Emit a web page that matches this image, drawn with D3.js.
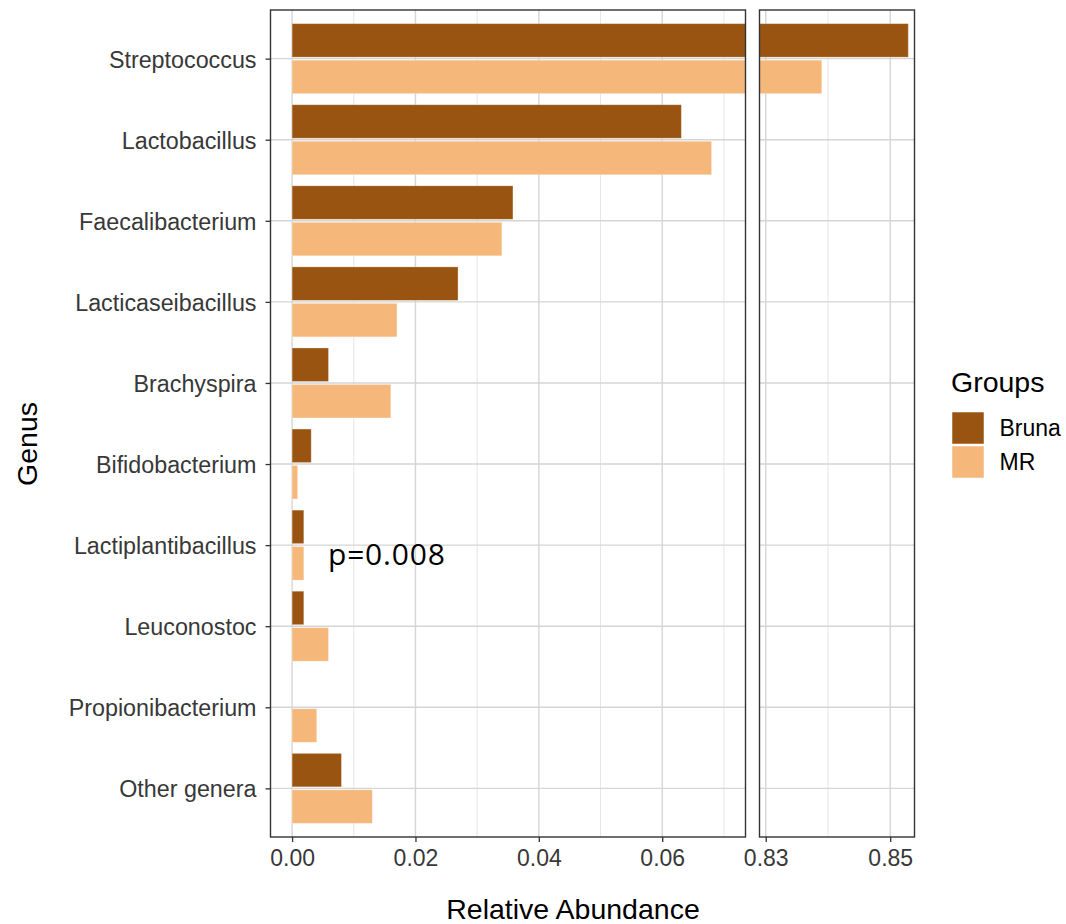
<!DOCTYPE html>
<html>
<head>
<meta charset="utf-8">
<script src="https://cdn.jsdelivr.net/npm/d3@7/dist/d3.min.js"></script>
<style>
  html, body { margin: 0; padding: 0; background: #ffffff; }
  svg { display: block; }
</style>
</head>
<body>
<svg id="chart" width="1066" height="924"></svg>
<script>
// Genera, top to bottom
const genera = [
  "Streptococcus", "Lactobacillus", "Faecalibacterium", "Lacticaseibacillus",
  "Brachyspira", "Bifidobacterium", "Lactiplantibacillus", "Leuconostoc",
  "Propionibacterium", "Other genera"
];
const groups = ["Bruna", "MR"];
// Mean relative abundance per genus
const bruna = [0.8529, 0.0631, 0.0358, 0.0269, 0.0059, 0.0031, 0.0019, 0.0019, 0.0, 0.0080];
const mr    = [0.8390, 0.0680, 0.0340, 0.0170, 0.0160, 0.0009, 0.0019, 0.0059, 0.0040, 0.0130];
const groupColors = ["#9A5411", "#F5B77A"];

// Broken x axis: low-value panel and high-value panel
const lowTicks = [0.00, 0.02, 0.04, 0.06];
const lowMinor = [0.01, 0.03, 0.05, 0.07];
const highTicks = [0.83, 0.85];
const highMinor = [0.84];
const pAnnotation = "p=0.008";

const rows = genera.map((g, i) => ({ genus: g, values: [bruna[i], mr[i]] }));

const svg = d3.select("#chart");
const font = "'Liberation Sans', Arial, Helvetica, sans-serif";
const axisTextColor = "#383838";
const panelTop = 10, panelBottom = 837;

const y = d3.scalePoint().domain(genera).range([panelTop, panelBottom]).padding(0.6);
const step = y.step();
const dodge = 0.9 * step;
const sub = d3.scaleBand().domain(groups).range([-dodge / 2, dodge / 2]);

const panels = [
  { id: "low", x: d3.scaleLinear().domain([-0.0035, 0.0735]).range([270.5, 745.5]),
    ticks: lowTicks, minor: lowMinor, fmt: d3.format(".2f"), yAxis: true },
  { id: "high", x: d3.scaleLinear().domain([0.829, 0.8539]).range([759.5, 914.5]),
    ticks: highTicks, minor: highMinor, fmt: d3.format(".2f"), yAxis: false }
];

const defs = svg.append("defs");

panels.forEach(p => {
  const [x0, x1] = p.x.range();
  defs.append("clipPath").attr("id", "clip-" + p.id)
    .append("rect").attr("x", x0).attr("y", panelTop).attr("width", x1 - x0).attr("height", panelBottom - panelTop);

  const g = svg.append("g");
  g.append("rect").attr("x", x0).attr("y", panelTop).attr("width", x1 - x0).attr("height", panelBottom - panelTop)
    .attr("fill", "#ffffff");

  // grid
  g.selectAll(".minor").data(p.minor).join("line")
    .attr("x1", d => p.x(d)).attr("x2", d => p.x(d)).attr("y1", panelTop).attr("y2", panelBottom)
    .attr("stroke", "#E6E6E6").attr("stroke-width", 1);
  g.selectAll(".major").data(p.ticks).join("line")
    .attr("x1", d => p.x(d)).attr("x2", d => p.x(d)).attr("y1", panelTop).attr("y2", panelBottom)
    .attr("stroke", "#D5D5D5").attr("stroke-width", 1.4);
  g.selectAll(".hgrid").data(genera).join("line")
    .attr("x1", x0).attr("x2", x1).attr("y1", d => y(d)).attr("y2", d => y(d))
    .attr("stroke", "#D5D5D5").attr("stroke-width", 1.4);

  // bars
  const bars = g.append("g").attr("clip-path", `url(#clip-${p.id})`);
  rows.forEach(r => {
    r.values.forEach((v, k) => {
      if (v <= 0) return;
      const yy = y(r.genus) + sub(groups[k]);
      const xa = p.x(0), xb = p.x(v);
      bars.append("rect")
        .attr("x", Math.min(xa, xb)).attr("width", Math.abs(xb - xa))
        .attr("y", yy + 1.5).attr("height", sub.bandwidth() - 3)
        .attr("fill", groupColors[k])
        .attr("stroke", "#ffffff").attr("stroke-opacity", 0.35).attr("stroke-width", 0.8);
    });
  });

  // border
  g.append("rect").attr("x", x0).attr("y", panelTop).attr("width", x1 - x0).attr("height", panelBottom - panelTop)
    .attr("fill", "none").attr("stroke", "#333333").attr("stroke-width", 1.4);

  // x axis
  const xa = svg.append("g").attr("transform", `translate(0,${panelBottom})`);
  xa.call(d3.axisBottom(p.x).tickValues(p.ticks).tickFormat(p.fmt).tickSize(5).tickPadding(8));
  xa.select(".domain").remove();
  xa.selectAll(".tick line").attr("stroke", "#333333").attr("stroke-width", 1.3);
  xa.selectAll(".tick text").attr("fill", axisTextColor).attr("font-family", font)
    .attr("font-size", 23).attr("dy", "0.71em");

  if (p.yAxis) {
    const ya = svg.append("g").attr("transform", `translate(${x0},0)`);
    ya.call(d3.axisLeft(y).tickSize(5).tickPadding(9));
    ya.select(".domain").remove();
    ya.selectAll(".tick line").attr("stroke", "#333333").attr("stroke-width", 1.3);
    ya.selectAll(".tick text").attr("fill", axisTextColor).attr("font-family", font)
      .attr("font-size", 23.3).attr("dy", "0.36em");
  }
});

// p-value annotation
svg.append("text").attr("x", 328).attr("y", 565)
  .attr("font-family", "'Open Sans', 'Noto Sans', sans-serif").attr("font-size", 30)
  .attr("letter-spacing", 0.8).attr("fill", "#000000").text(pAnnotation);

// axis titles
svg.append("text").attr("x", 573).attr("y", 919).attr("text-anchor", "middle")
  .attr("font-family", font).attr("font-size", 28.5).attr("fill", "#000000")
  .text("Relative Abundance");
svg.append("text").attr("transform", "translate(36.5,444) rotate(-90)")
  .attr("text-anchor", "middle").attr("font-family", font).attr("font-size", 28.5)
  .attr("fill", "#000000").text("Genus");

// legend
const leg = svg.append("g").attr("transform", "translate(951,0)");
leg.append("text").attr("x", 0).attr("y", 392).attr("font-family", font).attr("font-size", 28.5)
  .attr("fill", "#000000").text("Groups");
groups.forEach((gname, k) => {
  const cy = 428 + k * 34;
  leg.append("rect").attr("x", 0.5).attr("y", cy - 16.5).attr("width", 33).attr("height", 33)
    .attr("fill", groupColors[k]).attr("stroke", "#ffffff").attr("stroke-width", 1.5);
  leg.append("text").attr("x", 48.5).attr("y", cy + 8.3).attr("font-family", font)
    .attr("font-size", 23).attr("fill", "#000000").text(gname);
});
</script>
</body>
</html>
